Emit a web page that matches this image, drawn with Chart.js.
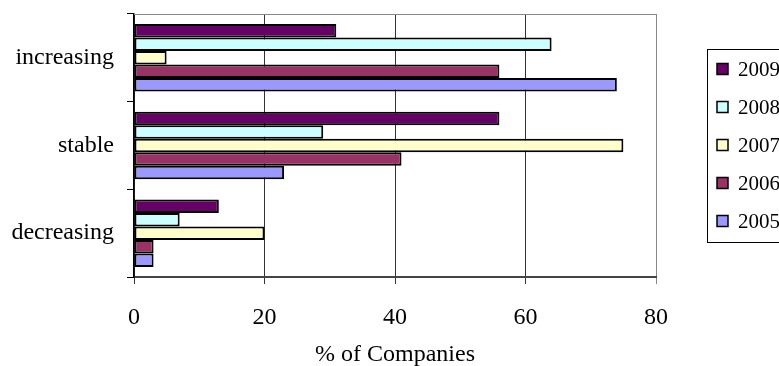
<!DOCTYPE html>
<html>
<head>
<meta charset="utf-8">
<script src="https://cdn.jsdelivr.net/npm/chart.js@4"></script>
<style>
  html, body { margin: 0; padding: 0; background: #ffffff; }
  #wrap { width: 779px; height: 366px; }
</style>
</head>
<body>
<div id="wrap"><canvas id="chart" width="779" height="366"></canvas></div>
<script>
// Trend categories and the share of companies (%) per survey year
const categories = ['increasing', 'stable', 'decreasing'];
const years = ['2009', '2008', '2007', '2006', '2005'];
const v2009 = [31, 56, 13];
const v2008 = [64, 29, 7];
const v2007 = [5, 75, 20];
const v2006 = [56, 41, 3];
const v2005 = [74, 23, 3];
const xMin = 0, xMax = 80, xStep = 20;
const xTitle = '% of Companies';

const seriesValues = [v2009, v2008, v2007, v2006, v2005];
const fills = ['#660066', '#CCFFFF', '#FFFFCC', '#993366', '#9999FF'];

const serif = 'Liberation Serif, "Times New Roman", serif';

// Plot frame: grey top edge; legend drawn as a bordered box at the right
const framePlugin = {
  id: 'frame',
  beforeDatasetsDraw(chart) {
    const { ctx, chartArea: a } = chart;
    ctx.save();
    ctx.strokeStyle = '#888888';
    ctx.lineWidth = 1;
    ctx.beginPath();
    ctx.moveTo(a.left, a.top + 0.5);
    ctx.lineTo(a.right, a.top + 0.5);
    ctx.stroke();
    ctx.restore();
  },
  afterDraw(chart) {
    const ctx = chart.ctx;
    const boxX = 707.5, boxY = 49.5, boxW = 120, boxH = 193;
    ctx.save();
    ctx.strokeStyle = '#000000';
    ctx.lineWidth = 1;
    ctx.strokeRect(boxX, boxY, boxW, boxH);
    ctx.font = '21px ' + serif;
    ctx.textBaseline = 'middle';
    ctx.textAlign = 'left';
    chart.data.datasets.forEach((ds, i) => {
      const cy = 69 + i * 38;
      ctx.fillStyle = ds.backgroundColor;
      ctx.fillRect(717, cy - 5.5, 11, 11);
      ctx.strokeStyle = '#000000';
      ctx.lineWidth = 1.5;
      ctx.strokeRect(717, cy - 5.5, 11, 11);
      ctx.fillStyle = '#000000';
      ctx.fillText(ds.label, 738, cy + 1);
    });
    ctx.restore();
  }
};

new Chart(document.getElementById('chart'), {
  type: 'bar',
  data: {
    labels: categories,
    datasets: years.map((y, i) => ({
      label: y,
      data: seriesValues[i],
      backgroundColor: fills[i],
      borderColor: '#000000',
      borderWidth: 2,
      borderSkipped: false,
      categoryPercentage: 0.77,
      barPercentage: 1.0
    }))
  },
  options: {
    indexAxis: 'y',
    responsive: false,
    animation: false,
    devicePixelRatio: 1,
    layout: { padding: { top: 14, right: 123, bottom: 0, left: 0 } },
    plugins: {
      legend: { display: false },
      tooltip: { enabled: false }
    },
    scales: {
      x: {
        min: xMin,
        max: xMax,
        ticks: {
          stepSize: xStep,
          color: '#000000',
          font: { family: serif, size: 24 },
          padding: 19
        },
        grid: {
          color: (c) => (c.tick && c.tick.value === xMax) ? '#888888' : '#333333',
          lineWidth: 1,
          tickLength: 7
        },
        border: { display: true, color: '#444444', width: 2 },
        title: {
          display: true,
          text: xTitle,
          color: '#000000',
          font: { family: serif, size: 24, lineHeight: 0.9 },
          padding: { top: 0, bottom: 0 }
        },
        afterFit(scale) { scale.height = 89; }
      },
      y: {
        ticks: {
          color: '#000000',
          font: { family: serif, size: 24 },
          padding: 13
        },
        grid: {
          offset: true,
          drawOnChartArea: false,
          color: '#000000',
          tickLength: 7
        },
        border: { display: true, color: '#000000', width: 1.5 },
        afterFit(scale) {
          scale.width = 134;
          scale.paddingTop = 0;
          scale.paddingBottom = 0;
        }
      }
    }
  },
  plugins: [framePlugin]
});
</script>
</body>
</html>
